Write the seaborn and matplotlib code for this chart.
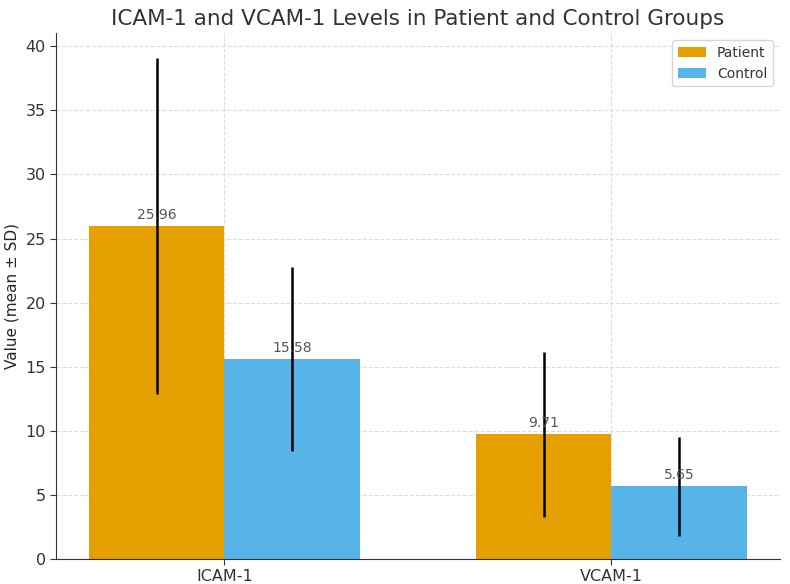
import pandas as pd
import matplotlib
matplotlib.use("Agg")
import matplotlib.pyplot as plt
import seaborn as sns

markers = ["ICAM-1", "VCAM-1"]
patient_mean = [25.96, 9.71]
patient_sd = [13.1, 6.42]
control_mean = [15.58, 5.65]
control_sd = [7.2, 3.9]
groups = ["Patient", "Control"]
colors = ["#E69F00", "#56B4E9"]

df = pd.DataFrame({
    "Marker": markers * 2,
    "Group": [groups[0]] * 2 + [groups[1]] * 2,
    "Value": patient_mean + control_mean,
    "SD": patient_sd + control_sd,
})

sns.set_style("whitegrid", {"grid.linestyle": "--", "grid.color": "#dddddd",
                            "axes.edgecolor": "#333333"})
plt.rcParams["text.color"] = "#333333"
plt.rcParams["xtick.color"] = "#333333"
plt.rcParams["ytick.color"] = "#333333"

fig, ax = plt.subplots(figsize=(7.9, 5.84), dpi=100)
sns.barplot(data=df, x="Marker", y="Value", hue="Group", palette=colors,
            errorbar=None, width=0.7, saturation=1, linewidth=0, ax=ax)

for cont, g in zip(ax.containers, groups):
    sub = df[df["Group"] == g]
    xs = [b.get_x() + b.get_width() / 2 for b in cont]
    ax.errorbar(xs, sub["Value"], yerr=sub["SD"], fmt="none", ecolor="black",
                elinewidth=1.8, capsize=0)
    ax.bar_label(cont, fmt="%.2f", padding=3, color="#555555", fontsize=10)

ax.set_xlim(-0.435, 1.435)
ax.set_axisbelow(True)
ax.xaxis.grid(True, linestyle="--", color="#dddddd")
ax.set_title("ICAM-1 and VCAM-1 Levels in Patient and Control Groups", fontsize=15.5, color="#333333")
ax.set_ylabel("Value (mean ± SD)", fontsize=11)
ax.set_xlabel("")
ax.tick_params(axis="both", labelsize=11.5, length=4, left=True, bottom=True)
for s in ["top", "right"]:
    ax.spines[s].set_visible(False)
ax.legend(loc="upper right", fontsize=10, title=None)

fig.subplots_adjust(left=0.071, right=0.987, top=0.943, bottom=0.043)
fig.savefig("out.png", dpi=100)
